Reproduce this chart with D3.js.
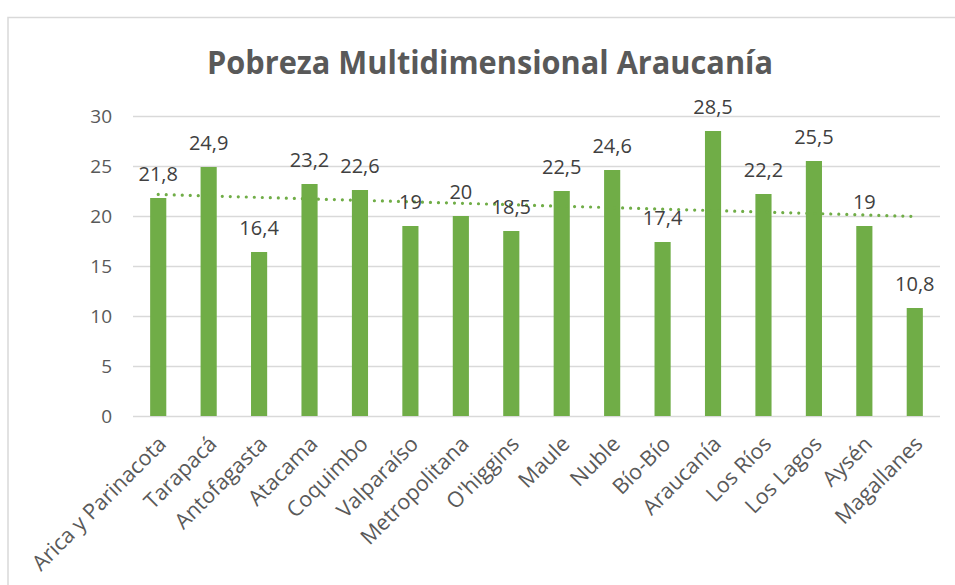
<!DOCTYPE html>
<html>
<head>
<meta charset="utf-8">
<script src="https://cdn.jsdelivr.net/npm/d3@7"></script>
<style>
  html, body { margin: 0; padding: 0; background: #ffffff; }
  svg { display: block; }
</style>
</head>
<body>
<svg id="chart" width="955" height="585"></svg>
<script>
const categories = ["Arica y Parinacota", "Tarapacá", "Antofagasta", "Atacama", "Coquimbo", "Valparaíso", "Metropolitana", "O'higgins", "Maule", "Nuble", "Bío-Bío", "Araucanía", "Los Ríos", "Los Lagos", "Aysén", "Magallanes"];
const values = [21.8, 24.9, 16.4, 23.2, 22.6, 19, 20, 18.5, 22.5, 24.6, 17.4, 28.5, 22.2, 25.5, 19, 10.8];
const yTicks = [0, 5, 10, 15, 20, 25, 30];
const title = "Pobreza Multidimensional Araucanía";

const svg = d3.select("#chart");
const W = 955, H = 585;
const plot = { left: 133, right: 940, top: 116, bottom: 416 };
const FONT = "'Open Sans', Lato, sans-serif";

// chart border
svg.append("path")
  .attr("d", `M8,${H + 2} L8,17.5 L${W + 2},17.5`)
  .attr("fill", "none").attr("stroke", "#d9d9d9").attr("stroke-width", 1.5);

const x = d3.scaleBand().domain(categories).range([plot.left, plot.right]).paddingInner(0.68).paddingOuter(0.34);
const y = d3.scaleLinear().domain([0, 30]).range([plot.bottom, plot.top]);

// gridlines
const yAxis = d3.axisLeft(y).tickValues(yTicks).tickSize(-(plot.right - plot.left)).tickPadding(21);
const gy = svg.append("g").attr("transform", `translate(${plot.left},0)`).call(yAxis);
gy.select(".domain").remove();
gy.selectAll(".tick line").attr("stroke", "#d9d9d9").attr("stroke-width", 1.3);
gy.selectAll(".tick text").attr("fill", "#595959").attr("font-family", FONT).attr("font-size", 19);

// bars
svg.append("g").selectAll("rect").data(values).join("rect")
  .attr("x", (d, i) => x(categories[i]))
  .attr("width", x.bandwidth())
  .attr("y", d => y(d))
  .attr("height", d => y(0) - y(d))
  .attr("fill", "#70ad47");

// x axis (category labels)
const xAxis = d3.axisBottom(x).tickSize(0).tickPadding(0);
const gx = svg.append("g").attr("transform", `translate(0,${plot.bottom})`).call(xAxis);
gx.select(".domain").remove();
gx.selectAll(".tick text")
  .attr("fill", "#595959").attr("font-family", FONT).attr("font-size", 21.5)
  .attr("text-anchor", "end")
  .attr("dy", "0.35em")
  .attr("transform", "translate(4,24) rotate(-45)")
  .attr("y", 0).attr("x", 0);

// trendline (linear regression over category index)
const n = values.length;
const xs = d3.range(1, n + 1);
const mx = d3.mean(xs), my = d3.mean(values);
const slope = d3.sum(xs, (xv, i) => (xv - mx) * (values[i] - my)) / d3.sum(xs, xv => (xv - mx) ** 2);
const icpt = my - slope * mx;
const trend = [[0, icpt + slope * 1], [n - 1, icpt + slope * n]];
svg.append("path")
  .datum(trend)
  .attr("d", d3.line().x(d => x(categories[d[0]]) + x.bandwidth() / 2).y(d => y(d[1])))
  .attr("fill", "none").attr("stroke", "#70ad47").attr("stroke-width", 3.2)
  .attr("stroke-linecap", "round").attr("stroke-dasharray", "0.01 8");

// data labels
svg.append("g").selectAll("text").data(values).join("text")
  .attr("x", (d, i) => x(categories[i]) + x.bandwidth() / 2)
  .attr("y", d => y(d) - 17)
  .attr("text-anchor", "middle")
  .attr("fill", "#404040").attr("font-family", FONT).attr("font-size", 20)
  .text(d => String(d).replace(".", ","));

// title
svg.append("text")
  .attr("x", 490).attr("y", 74)
  .attr("text-anchor", "middle")
  .attr("fill", "#595959").attr("font-family", FONT).attr("font-weight", "bold").attr("font-size", 33)
  .attr("textLength", 566).attr("lengthAdjust", "spacingAndGlyphs")
  .text(title);
</script>
</body>
</html>
